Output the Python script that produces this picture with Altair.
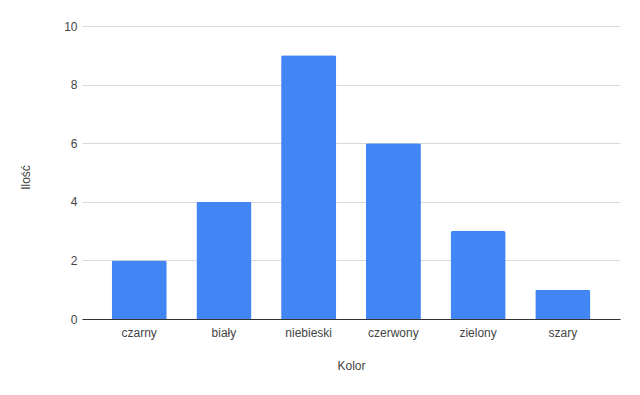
import altair as alt
import pandas as pd

categories = ["czarny", "biały", "niebieski", "czerwony", "zielony", "szary"]
values = [2, 4, 9, 6, 3, 1]

df = pd.DataFrame({"Kolor": categories, "Ilość": values})

chart = alt.Chart(df).mark_bar(
    color="#4285F4", cornerRadiusTopLeft=2, cornerRadiusTopRight=2
).encode(
    x=alt.X("Kolor:N", sort=categories,
            scale=alt.Scale(paddingInner=0.35, paddingOuter=0.35),
            axis=alt.Axis(title="Kolor", labelAngle=0, ticks=False, grid=False,
                          labelPadding=8, titlePadding=22, domainColor="#333333",
                          labelColor="#444444", titleColor="#444444",
                          labelFontSize=12, titleFontSize=12, labelFont="Liberation Sans",
                          titleFont="Liberation Sans", titleFontWeight="normal")),
    y=alt.Y("Ilość:Q", scale=alt.Scale(domain=[0, 10]),
            axis=alt.Axis(title="Ilość", values=[0, 2, 4, 6, 8, 10], ticks=False,
                          domain=False, labelPadding=5, gridColor="#d9d9d9",
                          labelColor="#444444", titleColor="#444444",
                          labelFontSize=12, titleFontSize=12, labelFont="Liberation Sans",
                          titleFont="Liberation Sans", titleFontWeight="normal",
                          titleX=-50, titleY=151)),
).properties(
    width=538, height=293,
    autosize=alt.AutoSizeParams(type="none"),
    padding={"left": 74, "top": 18, "right": 10, "bottom": 60},
).configure_view(stroke=None)

chart.save("out.html", embed_options={"renderer": "svg", "actions": False})
